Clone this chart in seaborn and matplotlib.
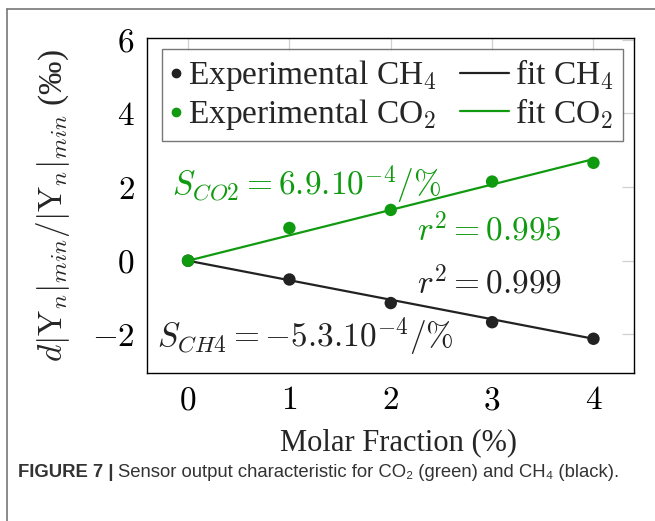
import matplotlib
matplotlib.use("Agg")
import matplotlib.pyplot as plt
import seaborn as sns
import pandas as pd
from matplotlib.lines import Line2D
from matplotlib.legend_handler import HandlerLine2D

# data
molar = [0, 1, 2, 3, 4]
exp_ch4 = [0.0, -0.51, -1.15, -1.67, -2.12]
exp_co2 = [0.0, 0.89, 1.38, 2.15, 2.66]
fit_ch4 = [0.0, -0.53, -1.06, -1.59, -2.12]
fit_co2 = [0.0, 0.69, 1.38, 2.07, 2.76]
xticks = [0, 1, 2, 3, 4]
yticks = [-2, 0, 2, 4, 6]

GREEN = "#109a10"
BLACK = "#222222"


class LongLine(HandlerLine2D):
    # legend line that reaches left of its (short) handle box
    def get_xdata(self, legend, xdescent, ydescent, width, height, fontsize):
        xd, xm = super().get_xdata(legend, xdescent, ydescent, width, height, fontsize)
        return [-xdescent - 27, -xdescent + width], xm


sns.set_style("white")
plt.rcParams["font.family"] = ["Liberation Serif", "DejaVu Serif"]
plt.rcParams["mathtext.fontset"] = "cm"

df = pd.DataFrame({"x": molar, "ch4": exp_ch4, "co2": exp_co2,
                   "fit_ch4": fit_ch4, "fit_co2": fit_co2})

fig = plt.figure(figsize=(6.55, 5.21), dpi=100)
ax = fig.add_axes([147 / 655, 1 - 373 / 521, 487 / 655, 335 / 521])

sns.lineplot(data=df, x="x", y="fit_ch4", color=BLACK, lw=1.6, ax=ax)
sns.lineplot(data=df, x="x", y="fit_co2", color=GREEN, lw=1.6, ax=ax)
sns.scatterplot(data=df, x="x", y="ch4", color=BLACK, s=80, edgecolor="none", ax=ax, zorder=3)
sns.scatterplot(data=df, x="x", y="co2", color=GREEN, s=80, edgecolor="none", ax=ax, zorder=3)

ax.set_xlim(-0.405, 4.40)
ax.set_ylim(-3.05, 6.05)
ax.set_xticks(xticks)
ax.set_xticklabels([f"${v}$" for v in xticks])
ax.set_yticks(yticks)
ax.set_yticklabels([f"${v}$" for v in yticks])
ax.tick_params(direction="in", length=9, width=0.9, color="#d0d0d0",
               top=True, right=True, labelsize=24, labelcolor="black")
ax.tick_params(axis="x", pad=9)
ax.tick_params(axis="y", pad=9)
for s in ax.spines.values():
    s.set_color("black")
    s.set_linewidth(1.0)

ax.set_xlabel("Molar Fraction (%)", fontsize=22, labelpad=8)
ax.xaxis.set_label_coords(0.516, -0.165)
ax.set_ylabel(r"$d|\mathrm{Y}_n|_{min}/|\mathrm{Y}_n|_{min}$ (‰)", fontsize=24, labelpad=14)

ax.text(-0.16, 2.06, r"$S_{CO2} = 6.9.10^{-4}/\%$", color=GREEN, fontsize=24, va="center")
ax.text(2.26, 0.84, r"$r^2 = 0.995$", color=GREEN, fontsize=24, va="center")
ax.text(2.26, -0.60, r"$r^2 = 0.999$", color=BLACK, fontsize=24, va="center")
ax.text(-0.31, -2.06, r"$S_{CH4} = -5.3.10^{-4}/\%$", color=BLACK, fontsize=24, va="center")

handles = [
    Line2D([], [], ls="none", marker="o", color=BLACK, markersize=6),
    Line2D([], [], ls="none", marker="o", color=GREEN, markersize=6),
    Line2D([], [], color=BLACK, lw=1.6),
    Line2D([], [], color=GREEN, lw=1.6),
]
labels = ["Experimental CH$_4$", "Experimental CO$_2$", "fit CH$_4$", "fit CO$_2$"]
leg = ax.legend(handles, labels, ncol=2, loc="upper left", bbox_to_anchor=(0.031, 0.967),
                fontsize=24, frameon=True, fancybox=False, handlelength=0.36,
                handletextpad=0.18, columnspacing=1.8, labelspacing=0.12,
                borderpad=0.25, borderaxespad=0,
                handler_map={handles[2]: LongLine(), handles[3]: LongLine()})
leg.get_frame().set_edgecolor("#555555")
leg.get_frame().set_linewidth(1.0)

# outer frame (top and left)
fig.add_artist(Line2D([7 / 655, 1.0], [1 - 9 / 521, 1 - 9 / 521], color="#777777", lw=1.2))
fig.add_artist(Line2D([7 / 655, 7 / 655], [0, 1 - 9 / 521], color="#777777", lw=1.2))

# caption
fig.canvas.draw()
r = fig.canvas.get_renderer()
t1 = fig.text(18 / 655, 1 - 477 / 521, "FIGURE 7 |", fontsize=13.3, fontweight="bold",
              family=["Liberation Sans", "DejaVu Sans"], color="#333333")
bb = t1.get_window_extent(renderer=r)
fig.text(bb.x1 / 655 + 4 / 655, 1 - 477 / 521,
         "Sensor output characteristic for CO\u2082 (green) and CH\u2084 (black).",
         fontsize=13.3, family=["Liberation Sans", "DejaVu Sans"], color="#333333")

fig.savefig("out.png", dpi=100)
